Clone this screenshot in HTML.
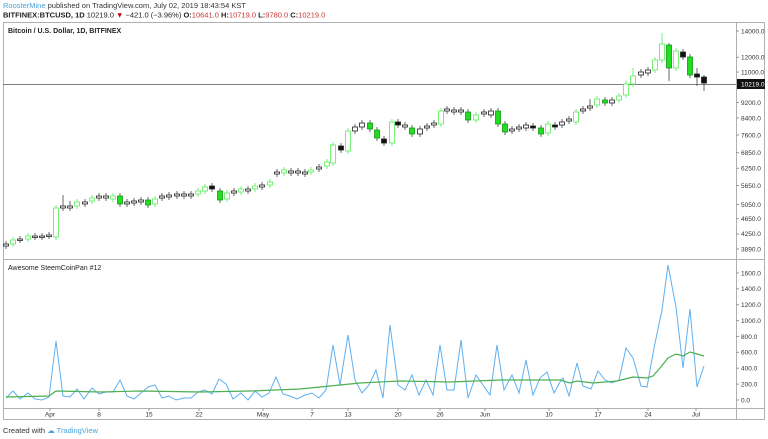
<!DOCTYPE html>
<html><head><meta charset="utf-8"><style>
body{margin:0;width:768px;height:439px;background:#fff;overflow:hidden;font-family:"Liberation Sans",sans-serif}
svg{position:absolute;left:0;top:0}
</style></head><body>
<svg id="s" width="768" height="439" xmlns="http://www.w3.org/2000/svg" font-family="Liberation Sans, sans-serif">
<text x="3" y="8" font-size="7.5" fill="#333"><tspan fill="#4aa3df">RoosterMine</tspan> published on TradingView.com, July 02, 2019 18:43:54 KST</text>
<text x="3" y="17.5" font-size="7.5" fill="#222"><tspan font-weight="bold">BITFINEX:BTCUSD, 1D</tspan> 10219.0 <tspan fill="#c00">▼</tspan> −421.0 (−3.96%) <tspan font-weight="bold">O:</tspan><tspan fill="#c33">10641.0</tspan> <tspan font-weight="bold">H:</tspan><tspan fill="#c33">10719.0</tspan> <tspan font-weight="bold">L:</tspan><tspan fill="#c33">9780.0</tspan> <tspan font-weight="bold">C:</tspan><tspan fill="#c33">10219.0</tspan></text>
<rect x="3.5" y="22.5" width="761" height="397" fill="none" stroke="#b0b0b0"/>
<line x1="3" y1="259.5" x2="765" y2="259.5" stroke="#b0b0b0"/>
<line x1="3" y1="408.5" x2="765" y2="408.5" stroke="#b0b0b0"/>
<line x1="736.5" y1="22" x2="736.5" y2="420" stroke="#b0b0b0"/>
<text x="8" y="33" font-size="7" font-weight="bold" fill="#222">Bitcoin / U.S. Dollar, 1D, BITFINEX</text>
<text x="8" y="270" font-size="7" fill="#222">Awesome SteemCoinPan #12</text>
<text x="3" y="433" font-size="7.5" fill="#333">Created with <tspan fill="#4aa3df">☁ TradingView</tspan></text>
<g id="g"></g>
</svg>
<script>
var g=document.getElementById('g'),h='';
function L(x1,y1,x2,y2,c,w){h+='<line x1="'+x1+'" y1="'+y1+'" x2="'+x2+'" y2="'+y2+'" stroke="'+c+'" stroke-width="'+(w||1)+'"/>';}
function T(x,y,t,a){h+='<text x="'+x+'" y="'+y+'" font-size="6.5" fill="#333"'+(a?' text-anchor="middle"':'')+'>'+t+'</text>';}
// price axis (log)
function py(p){return 1655.9-170.2*Math.log(p);}
[14000,12000,11000,9200,8400,7600,6850,6250,5650,5050,4650,4250,3890].forEach(function(p){var y=py(p);L(736,y,739,y,'#999');T(741,y+2.3,p.toFixed(1));});
L(3,84.5,736,84.5,'#555',0.8);
h+='<rect x="737" y="79" width="28" height="10" fill="#111"/><text x="741" y="86.5" font-size="6.5" fill="#fff">10219.0</text>';
[1600,1400,1200,1000,800,600,400,200,0].forEach(function(v){var y=400-v*0.0794;L(736,y,739,y,'#999');T(741,y+2.3,v.toFixed(1));});
[[50,'Apr'],[99,'8'],[149,'15'],[199,'22'],[263,'May'],[312,'7'],[348,'13'],[398,'20'],[440,'26'],[485,'Jun'],[549,'10'],[598,'17'],[648,'24'],[696,'Jul']].forEach(function(a){L(a[0],408,a[0],411,'#999');T(a[0],416.5,a[1],1);});
// candles [x,top,bot,type] type h hollow green, g filled green, b black, k small gray
var C=[[6,244,246,'k'],[13,240,244,'h'],[20,239,240,'k'],[28,236,239,'h'],[35,236,237,'k'],[42,236,237,'k'],[49,235,236,'k'],[56,208,237,'h'],[63,206,208,'k',195],[70,206,208,'k',201],[77,202,206,'h'],[85,202,204,'k'],[92,198,201,'h'],[99,196,198,'k'],[106,196,198,'k'],[113,196,199,'h'],[120,196,204,'g'],[127,202,204,'k'],[134,201,203,'k'],[141,200,202,'k'],[148,200,205,'g'],[155,199,204,'h'],[162,196,198,'k'],[169,195,197,'k'],[177,194,196,'k'],[184,194,196,'k'],[191,194,196,'k'],[198,191,194,'h'],[205,187,191,'h'],[212,186,189,'b'],[220,191,200,'g'],[227,193,199,'h'],[234,191,193,'k'],[241,189,192,'h'],[248,189,191,'k'],[255,186,189,'h'],[262,185,187,'k'],[270,182,185,'h'],[277,172,174,'k'],[284,170,173,'h'],[291,171,173,'k'],[298,171,173,'k'],[305,172,174,'k'],[311,170,172,'h'],[319,167,169,'k'],[327,162,166,'h'],[333,145,163,'h'],[341,146,150,'b'],[348,131,151,'h'],[355,127,131,'k'],[362,123,127,'k'],[370,123,129,'g'],[377,130,138,'g'],[384,139,143,'b'],[392,122,143,'h'],[398,122,125,'b'],[405,125,127,'k'],[412,128,134,'g'],[420,129,134,'k'],[427,126,128,'k'],[434,123,125,'k'],[441,111,124,'h'],[447,109,111,'k'],[454,110,112,'k'],[461,110,112,'k'],[468,112,120,'g'],[476,115,120,'h'],[484,112,114,'k'],[491,111,115,'k'],[498,111,124,'g'],[505,124,132,'g'],[512,129,131,'k'],[519,127,129,'k'],[526,125,128,'k'],[533,126,128,'b'],[541,128,134,'g'],[548,124,133,'h'],[555,125,127,'b'],[562,122,125,'k'],[569,119,121,'k'],[576,112,122,'h'],[583,109,111,'k'],[590,106,108,'k',99],[597,99,105,'h'],[605,100,103,'g'],[612,100,103,'k'],[619,96,100,'h'],[626,84,95,'h'],[633,76,84,'h',68],[641,72,75,'k'],[648,70,73,'k'],[655,60,70,'h'],[662,44,60,'h',33],[669,45,68,'g',43,81],[676,51,68,'h'],[683,52,57,'b'],[690,57,75,'g'],[697,74,77,'b',68,86],[704,77,83,'b',75,91]];
C.forEach(function(c){var x=c[0],t=c[1],b=c[2],k=c[3],wt=c[4]||t-3,wb=c[5]||b+3;
var sc=k=='h'?'#55ee55':(k=='g'?'#119911':'#222'),fc=k=='h'?'#fff':(k=='g'?'#22dd22':(k=='b'?'#111':'#fff'));
L(x,wt,x,wb,k=='h'?'#55ee55':'#444',0.8);
h+='<rect x="'+(x-2.5)+'" y="'+t+'" width="5" height="'+Math.max(b-t,1.5)+'" fill="'+fc+'" stroke="'+sc+'" stroke-width="0.8"/>';});
// oscillator
var B=[[6,398],[13,391],[20,399],[28,393],[35,399],[42,400],[49,397],[56,341],[63,396],[70,397],[77,389],[84,399],[92,388],[99,394],[106,392],[113,392],[120,380],[127,396],[134,399],[141,393],[148,387],[155,385],[162,398],[169,396],[176,400],[184,398],[191,398],[198,392],[205,390],[212,394],[219,379],[226,384],[233,399],[241,393],[248,400],[255,391],[262,397],[269,393],[276,377],[283,394],[290,396],[297,399],[305,395],[312,393],[319,398],[326,390],[333,345],[340,385],[348,335],[355,380],[362,393],[369,385],[376,370],[383,398],[390,325],[398,385],[405,390],[412,375],[419,395],[426,380],[433,395],[440,345],[447,390],[454,390],[461,340],[468,398],[476,375],[483,385],[490,395],[497,345],[504,390],[512,375],[519,393],[526,360],[533,395],[540,378],[547,372],[554,393],[560,382],[563,378],[569,396],[577,363],[583,386],[591,389],[598,371],[605,380],[612,383],[619,380],[626,348],[633,358],[641,386],[647,387],[654,348],[662,310],[668,265],[676,307],[683,368],[690,309],[697,387],[704,366]];
h+='<polyline fill="none" stroke="#5fb0f0" stroke-width="1" points="'+B.map(function(p){return p.join(',')}).join(' ')+'"/>';
var G=[[6,397],[49,396],[56,391],[100,392],[140,391],[200,392],[250,391],[300,389],[330,386],[360,383],[400,381],[450,382],[500,380],[560,380],[570,383],[577,381],[593,383],[617,381],[633,377],[647,378],[653,376],[660,368],[668,358],[676,354],[683,356],[690,352],[697,354],[704,356]];
h+='<polyline fill="none" stroke="#4caf50" stroke-width="1.2" points="'+G.map(function(p){return p.join(',')}).join(' ')+'"/>';
g.innerHTML=h;
</script>
</body></html>
